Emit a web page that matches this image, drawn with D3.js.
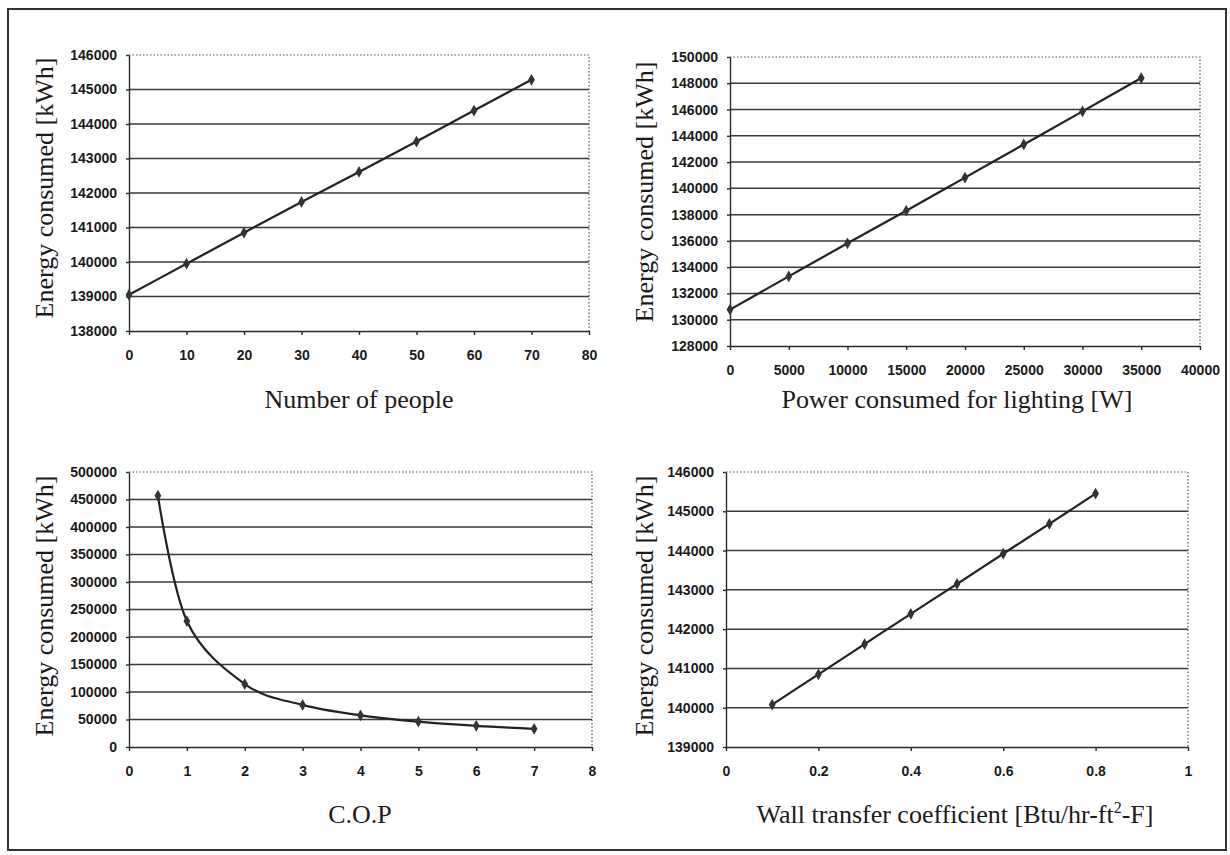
<!DOCTYPE html>
<html>
<head>
<meta charset="utf-8">
<script src="https://cdn.jsdelivr.net/npm/d3@7"></script>
<style>
    body { margin:0; background:#fff; }
    .tick text { font-family:"Liberation Sans", Arial, sans-serif; font-weight:bold; font-size:14px; fill:#1a1a1a; }
    .tick line, .domain { stroke:#2a2a2a; stroke-width:1.4; }
    .axisTitle { font-family:"Liberation Serif", "Times New Roman", serif; font-size:26px; fill:#1a1a1a; }
</style>
</head>
<body>
<svg id="chart" width="1230" height="855"></svg>
<script>

// -- data

var peopleX = [0, 10, 20, 30, 40, 50, 60, 70];
var peopleY = [139050, 139950, 140850, 141740, 142610, 143490, 144390, 145280];
var peopleXTicks = [0, 10, 20, 30, 40, 50, 60, 70, 80];
var peopleYTicks = [138000, 139000, 140000, 141000, 142000, 143000, 144000, 145000, 146000];

var lightingX = [0, 5000, 10000, 15000, 20000, 25000, 30000, 35000];
var lightingY = [130770, 133300, 135820, 138300, 140820, 143340, 145860, 148400];
var lightingXTicks = [0, 5000, 10000, 15000, 20000, 25000, 30000, 35000, 40000];
var lightingYTicks = [128000, 130000, 132000, 134000, 136000, 138000, 140000, 142000, 144000, 146000, 148000, 150000];

var copX = [0.5, 1, 2, 3, 4, 5, 6, 7];
var copY = [457000, 229000, 114500, 76500, 57500, 46000, 38500, 33000];
var copXTicks = [0, 1, 2, 3, 4, 5, 6, 7, 8];
var copYTicks = [0, 50000, 100000, 150000, 200000, 250000, 300000, 350000, 400000, 450000, 500000];

var wallX = [0.1, 0.2, 0.3, 0.4, 0.5, 0.6, 0.7, 0.8];
var wallY = [140080, 140850, 141620, 142390, 143150, 143920, 144680, 145450];
var wallXTicks = [0, 0.2, 0.4, 0.6, 0.8, 1];
var wallYTicks = [139000, 140000, 141000, 142000, 143000, 144000, 145000, 146000];


// -- panel layout (pixel boxes of the four plot areas)

var panels = [
    {xs:peopleX, ys:peopleY, xt:peopleXTicks, yt:peopleYTicks,
        box:{l:129, r:589, t:55, b:331}, yLab:{x:53, y:188}, title:{x:359, y:408}, label:"Number of people"},
    {xs:lightingX, ys:lightingY, xt:lightingXTicks, yt:lightingYTicks,
        box:{l:730, r:1200, t:57, b:346}, yLab:{x:653, y:192}, title:{x:957, y:408}, label:"Power consumed for lighting [W]"},
    {xs:copX, ys:copY, xt:copXTicks, yt:copYTicks,
        box:{l:129, r:592, t:472, b:747}, yLab:{x:53, y:606}, title:{x:360, y:823}, label:"C.O.P"},
    {xs:wallX, ys:wallY, xt:wallXTicks, yt:wallYTicks,
        box:{l:726, r:1188, t:472, b:747}, yLab:{x:653, y:606}, title:{x:955, y:823}, label:"wall"}
];

var svg = d3.select("#chart");

// outer frame
svg.append("rect").attr("x", 8).attr("y", 9).attr("width", 1218).attr("height", 841)
    .style("fill", "none").style("stroke", "#333").style("stroke-width", 2);

panels.forEach(function(p){

    var x = d3.scaleLinear().domain(d3.extent(p.xt)).range([p.box.l, p.box.r]);
    var y = d3.scaleLinear().domain(d3.extent(p.yt)).range([p.box.b, p.box.t]);

    var g = svg.append("g");

    // -- grid lines (top one dotted like the plot frame)
    g.selectAll(".grid").data(p.yt.slice(1, -1)).enter().append("line")
        .attr("x1", p.box.l).attr("x2", p.box.r)
        .attr("y1", function(d){return y(d);}).attr("y2", function(d){return y(d);})
        .style("stroke", "#3a3a3a").style("stroke-width", 1.5);

    g.append("path")
        .attr("d", "M" + p.box.l + "," + y(p.yt[p.yt.length-1]) + "H" + p.box.r + "V" + p.box.b)
        .style("fill", "none").style("stroke", "#555").style("stroke-width", 1.2)
        .style("stroke-dasharray", "1.5,2");

    // -- axes
    g.append("g").attr("transform", "translate(" + p.box.l + ",0)")
        .call(d3.axisLeft(y).tickValues(p.yt).tickSize(3).tickSizeOuter(0).tickPadding(9)
            .tickFormat(function(d){return String(d);}));

    g.append("g").attr("transform", "translate(0," + p.box.b + ")")
        .call(d3.axisBottom(x).tickValues(p.xt).tickSize(4).tickSizeOuter(0).tickPadding(15)
            .tickFormat(function(d){return String(d);}));

    // -- the series
    var pts = p.xs.map(function(d, i){return [d, p.ys[i]];});

    var line = d3.line()
        .x(function(d){return x(d[0]);})
        .y(function(d){return y(d[1]);})
        .curve(d3.curveCatmullRom.alpha(0));

    g.append("path").datum(pts).attr("d", line)
        .style("fill", "none").style("stroke", "#222").style("stroke-width", 2.2);

    g.selectAll(".marker").data(pts).enter().append("path")
        .attr("class", "marker")
        .attr("transform", function(d){return "translate(" + x(d[0]) + "," + y(d[1]) + ")";})
        .attr("d", d3.symbol().type(d3.symbolDiamond).size(40))
        .style("fill", "#333");

    // -- axis titles
    g.append("text").attr("class", "axisTitle")
        .attr("text-anchor", "middle")
        .attr("transform", "translate(" + p.yLab.x + "," + p.yLab.y + ") rotate(-90)")
        .text("Energy consumed [kWh]");

    var t = g.append("text").attr("class", "axisTitle")
        .attr("text-anchor", "middle")
        .attr("x", p.title.x).attr("y", p.title.y);

    if (p.label == "wall"){
        t.append("tspan").text("Wall transfer coefficient [Btu/hr-ft");
        t.append("tspan").attr("dy", -10).style("font-size", "16px").text("2");
        t.append("tspan").attr("dy", 10).text("-F]");
    }else{
        t.text(p.label);
    }
});

</script>
</body>
</html>
